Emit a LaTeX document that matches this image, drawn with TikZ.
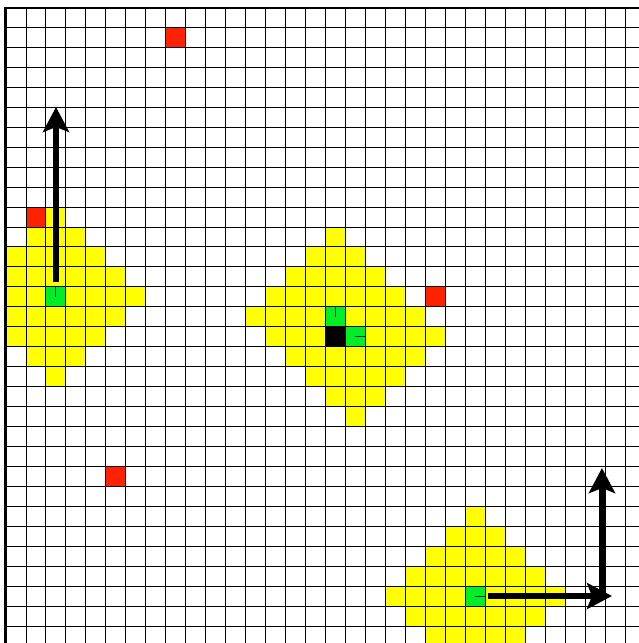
\documentclass[tikz,border=0pt]{standalone}
\usetikzlibrary{arrows.meta}
\definecolor{cellred}{RGB}{255,34,0}
\definecolor{cellgreen}{RGB}{0,238,40}
\definecolor{cellyellow}{RGB}{255,255,0}
\newcommand{\cs}{19.97}
\newcommand{\xo}{6}
\newcommand{\yo}{7.3}
\newcommand{\fillcell}[3]{\fill[#1] ({\xo+#2*\cs},{\yo+#3*\cs}) rectangle ({\xo+(#2+1)*\cs},{\yo+(#3+1)*\cs});}
\newcommand{\diamondat}[2]{%
  \foreach \d in {-4,...,4}{%
    \pgfmathsetmacro\w{4-abs(\d)}%
    \fill[cellyellow] ({\xo+(#1-\w)*\cs},{\yo+(#2+\d)*\cs}) rectangle ({\xo+(#1+\w+1)*\cs},{\yo+(#2+\d+1)*\cs});
  }}
\tikzset{
  gridline/.style={line width=0.9pt, draw=black},
  borderline/.style={line width=2.6pt, draw=black},
  tick/.style={line width=1pt, draw=black!85!green},
  bigarrow/.style={line width=5.5pt, -{Stealth[length=25pt,width=26pt,inset=5pt]}},
}
\begin{document}
\begin{tikzpicture}[x=1pt,y=-1pt]
\useasboundingbox (0,0) rectangle (639,643);
\fill[white] (0,0) rectangle (639,643);
\begin{scope}
  \clip (\xo,\yo) rectangle (639,643);
  % yellow diamonds
  \diamondat{2}{14}
  \diamondat{16}{15}
  \diamondat{17}{16}
  \diamondat{23}{29}
  % red cells
  \fillcell{cellred}{8}{1}
  \fillcell{cellred}{1}{10}
  \fillcell{cellred}{21}{14}
  \fillcell{cellred}{5}{23}
  % green cells
  \fillcell{cellgreen}{2}{14}
  \fillcell{cellgreen}{16}{15}
  \fillcell{cellgreen}{17}{16}
  \fillcell{cellgreen}{23}{29}
  % black cell
  \fillcell{black}{16}{16}
  % grid
  \foreach \i in {1,...,32}{
    \draw[gridline] ({\xo+\i*\cs},\yo) -- ({\xo+\i*\cs},650);
    \draw[gridline] (\xo,{\yo+\i*\cs}) -- (650,{\yo+\i*\cs});
  }
\end{scope}
% border
\draw[borderline] (5.5,643) -- (5.5,8) -- (639,8);
% ticks in green cells
\draw[tick] ({\xo+2.5*\cs},{\yo+14.5*\cs}) -- ({\xo+2.5*\cs},{\yo+14*\cs});
\draw[tick] ({\xo+16.5*\cs},{\yo+15.5*\cs}) -- ({\xo+16.5*\cs},{\yo+15*\cs});
\draw[tick] ({\xo+17.5*\cs},{\yo+16.5*\cs}) -- ({\xo+18*\cs},{\yo+16.5*\cs});
\draw[tick] ({\xo+23.5*\cs},{\yo+29.5*\cs}) -- ({\xo+24*\cs},{\yo+29.5*\cs});
% arrows
\coordinate (la0) at (56,282);
\coordinate (la1) at (56,107);
\coordinate (ha0) at (488,596);
\coordinate (ha1) at (612,596);
\coordinate (va0) at (602,598.5);
\coordinate (va1) at (602,468);
\draw[bigarrow] (la0) -- (la1);
\draw[bigarrow] (ha0) -- (ha1);
\draw[bigarrow] (va0) -- (va1);
\end{tikzpicture}
\end{document}
